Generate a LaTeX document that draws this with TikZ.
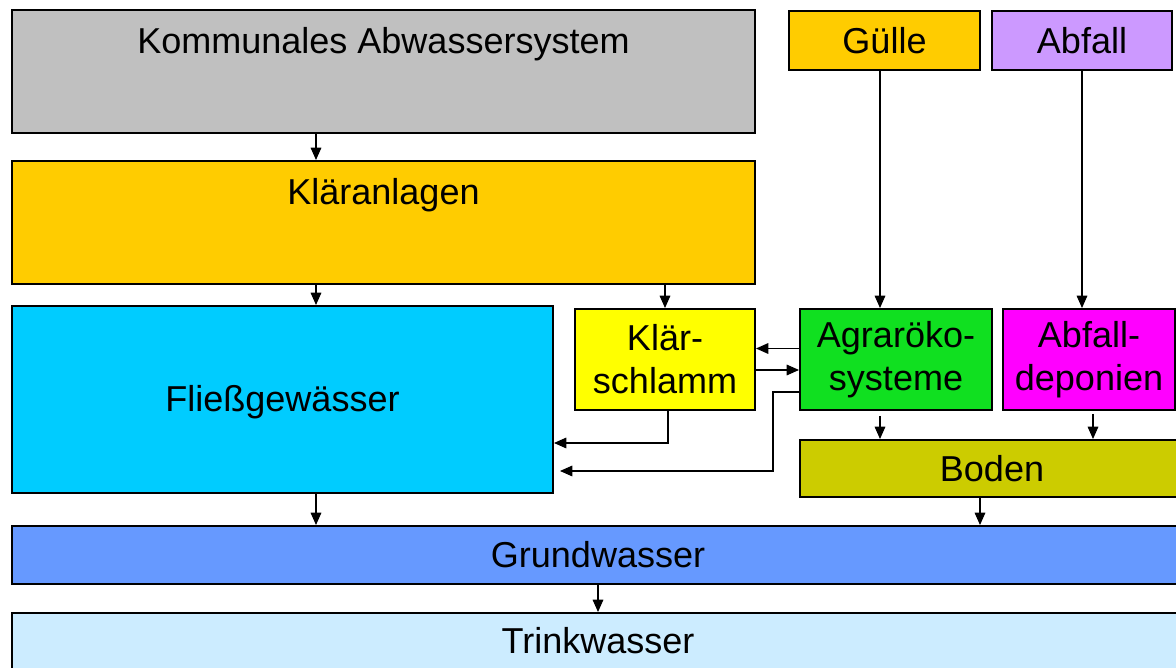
\documentclass[tikz,border=0pt]{standalone}
\usepackage{fontspec}
\setmainfont{Liberation Sans}
\usepackage{tikz}
\usetikzlibrary{arrows.meta, positioning, fit, calc}

\definecolor{grau}{HTML}{C0C0C0}
\definecolor{gold}{HTML}{FFCC00}
\definecolor{lila}{HTML}{CC99FF}
\definecolor{wasser}{HTML}{00CCFF}
\definecolor{gelb}{HTML}{FFFF00}
\definecolor{gruen}{HTML}{10E020}
\definecolor{pink}{HTML}{FF00FF}
\definecolor{oliv}{HTML}{CCCC00}
\definecolor{blau}{HTML}{6699FF}
\definecolor{hellblau}{HTML}{CCECFF}

\begin{document}
\begin{tikzpicture}[
    x=0.02cm, y=-0.02cm,
    box/.style={rectangle, draw=black, line width=1.1pt, inner sep=0pt},
    txt/.style={anchor=center, align=center, inner sep=0pt,
                font=\fontsize{20.5}{24.5}\selectfont},
    toplbl/.style={txt, yshift=-0.71cm},
    arr/.style={-{Triangle[length=7pt, width=6pt]}, line width=0.8pt, draw=black}
]
\useasboundingbox (0,0) rectangle (1176,668);
\clip (0,0) rectangle (1176,668);
\fill[white] (0,0) rectangle (1176,668);

\node[box, fill=grau, fit={(12,10) (755,133)},
      label={[toplbl]north:Kommunales Abwassersystem}] (kas) {};
\node[box, fill=gold, fit={(789,11) (980,70)}, label={[txt]center:Gülle}] (guelle) {};
\node[box, fill=lila, fit={(992,11) (1172,70)}, label={[txt]center:Abfall}] (abfall) {};
\node[box, fill=gold, fit={(12,161) (755,284)},
      label={[toplbl]north:Kläranlagen}] (klaer) {};
\node[box, fill=wasser, fit={(12,306) (553,493)}, label={[txt, yshift=-0.06cm]center:Fließgewässer}] (fliess) {};
\node[box, fill=gelb, fit={(575,309) (755,410)}, label={[txt]center:Klär-\\schlamm}] (schlamm) {};
\node[box, fill=gruen, fit={(800,309) (992,410)}, label={[txt]center:Agraröko-\\systeme}] (agrar) {};
\node[box, fill=pink, fit={(1003,309) (1175,410)}, label={[txt]center:Abfall-\\deponien}] (deponie) {};
\node[box, fill=oliv, fit={(800,440) (1184,497)}, label={[txt]center:Boden}] (boden) {};
\node[box, fill=blau, fit={(12,526) (1184,584)}, label={[txt]center:Grundwasser}] (grund) {};
\node[box, fill=hellblau, fit={(12,613) (1184,673)}, label={[txt, yshift=0.04cm]center:Trinkwasser}] (trink) {};

\coordinate (xa) at (316,0);
\coordinate (xb) at (880,0);
\coordinate (xc) at (1093,0);
\coordinate (xd) at (980,0);

\draw[arr] (kas.south -| xa) -- (klaer.north -| xa);
\draw[arr] (klaer.south -| xa) -- (fliess.north -| xa);
\draw[arr] (klaer.south -| schlamm.north) -- (schlamm.north);
\draw[arr] (guelle.south -| xb) -- (agrar.north -| xb);
\draw[arr] (abfall.south) -- (abfall.south |- deponie.north);
\draw[arr] ([yshift=0.22cm]agrar.west) -- ([yshift=0.22cm]schlamm.east);
\draw[arr] ([yshift=-0.21cm]schlamm.east) -- ([yshift=-0.21cm]agrar.west);
\draw[arr] ([xshift=0.06cm]schlamm.south) |- ([yshift=-0.87cm]fliess.east);
\draw[arr] ([yshift=-0.65cm]agrar.west) -- ++(-26,0) |- ([yshift=-1.43cm, xshift=0.12cm]fliess.east);
\draw[arr] ([yshift=-0.1cm]agrar.south -| xb) -- (boden.north -| xb);
\draw[arr] ([yshift=-0.06cm]deponie.south -| xc) -- (boden.north -| xc);
\draw[arr] (fliess.south -| xa) -- (grund.north -| xa);
\draw[arr] (boden.south -| xd) -- (grund.north -| xd);
\draw[arr] (grund.south -| trink.north) -- (trink.north);
\end{tikzpicture}
\end{document}
